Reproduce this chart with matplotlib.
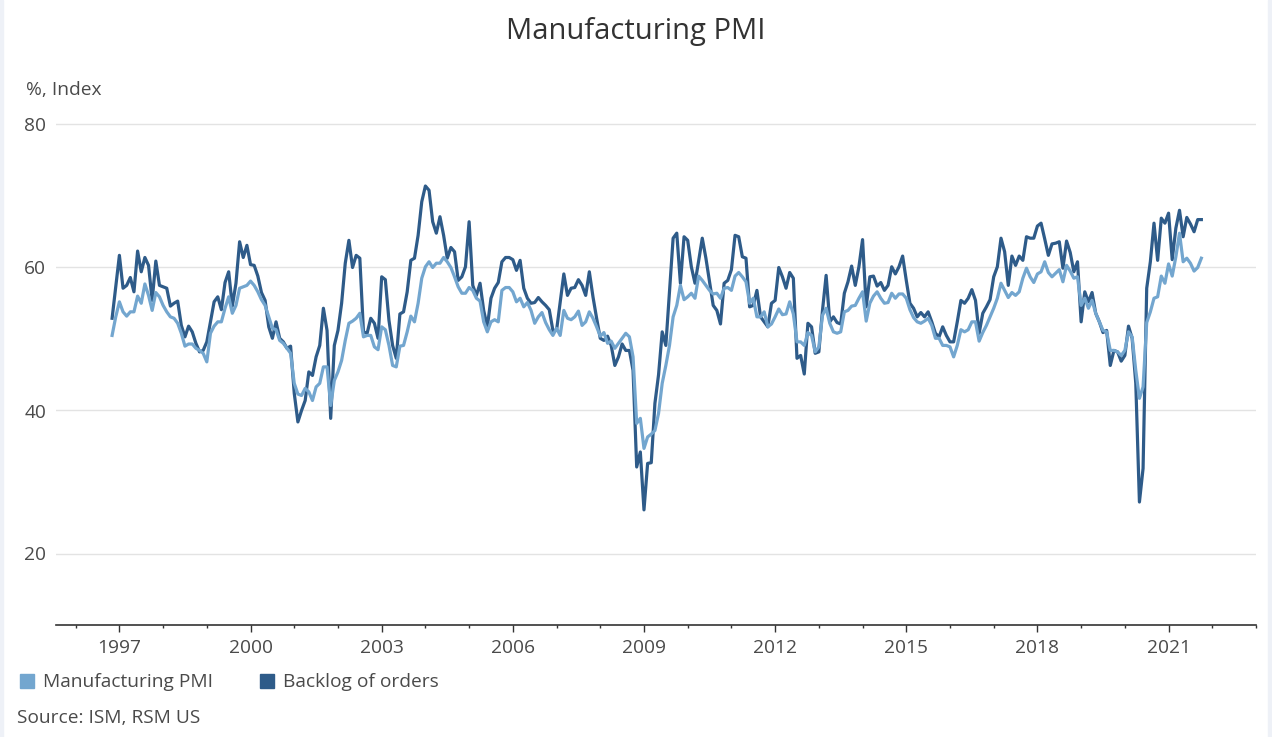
import numpy as np
import matplotlib
matplotlib.use("Agg")
import matplotlib.pyplot as plt
from matplotlib.patches import Rectangle

plt.rcParams['font.family'] = ['Open Sans', 'DejaVu Sans']

# monthly values, Nov 1996 .. Oct 2021
pmi = [
    50.5, 53.1,
    55.2, 53.8, 53.2, 53.8, 53.8, 56.0, 55.0, 57.7, 56.1, 54.0, 56.5, 55.9,
    54.7, 53.8, 53.1, 52.9, 52.2, 50.8, 49.0, 49.3, 49.3, 48.7, 48.4, 48.0,
    46.8, 50.8, 51.8, 52.4, 52.4, 54.3, 55.9, 53.6, 54.7, 57.1, 57.3, 57.5,
    58.1, 57.5, 56.6, 55.5, 54.7, 53.1, 51.5, 51.3, 49.8, 49.4, 48.7, 48.0,
    43.8, 42.3, 42.1, 43.1, 42.6, 41.4, 43.3, 43.8, 46.1, 46.1, 40.7, 44.2,
    45.4, 47.0, 49.8, 52.2, 52.5, 52.9, 53.6, 50.3, 50.5, 50.5, 48.9, 48.5,
    51.7, 51.3, 49.1, 46.3, 46.1, 49.0, 49.1, 51.0, 53.2, 52.4, 55.0, 58.5,
    60.1, 60.8, 60.0, 60.6, 60.6, 61.4, 60.8, 60.0, 58.7, 57.3, 56.4, 56.4,
    57.2, 56.8, 55.7, 55.3, 52.4, 51.0, 52.4, 52.7, 52.4, 56.8, 57.2, 57.2,
    56.6, 55.2, 55.7, 54.5, 55.1, 54.0, 52.2, 53.1, 53.7, 52.3, 51.3, 50.5,
    51.5, 50.5, 54.0, 52.9, 52.7, 53.1, 53.9, 51.9, 52.4, 53.8, 52.9, 51.7,
    50.4, 50.9, 49.4, 49.7, 48.7, 49.4, 50.1, 50.8, 50.3, 47.5, 38.2, 38.9,
    34.7, 36.3, 36.7, 37.2, 39.6, 43.8, 46.3, 49.1, 53.1, 54.7, 57.5, 55.5,
    55.9, 56.4, 55.7, 58.8, 58.2, 57.5, 56.8, 56.3, 56.4, 55.7, 57.1, 57.2,
    56.8, 58.8, 59.3, 58.7, 58.0, 55.0, 55.7, 53.1, 53.1, 53.8, 51.7, 52.1,
    53.1, 54.2, 53.4, 53.5, 55.2, 53.5, 49.6, 49.6, 49.1, 50.9, 50.5, 48.2,
    48.9, 53.3, 54.3, 52.2, 51.0, 50.8, 51.0, 53.8, 54.0, 54.6, 54.7, 55.7,
    56.6, 52.5, 55.0, 56.0, 56.6, 55.7, 55.0, 55.1, 56.4, 55.7, 56.3, 56.3,
    55.7, 54.1, 53.0, 52.4, 52.2, 52.5, 52.9, 51.9, 50.1, 50.1, 49.1, 49.1,
    48.9, 47.5, 49.1, 51.3, 51.0, 51.3, 52.4, 52.4, 49.7, 50.9, 51.9, 53.1,
    54.3, 55.7, 57.8, 56.8, 55.8, 56.5, 56.1, 56.6, 58.5, 59.9, 58.7, 57.9,
    59.1, 59.4, 60.8, 59.3, 58.7, 59.2, 59.7, 58.0, 60.3, 59.5, 58.5, 58.7,
    54.7, 55.7, 54.3, 55.4, 53.6, 52.4, 51.2, 51.0, 48.4, 48.4, 48.2, 47.7,
    48.4, 51.0, 50.3, 45.6, 41.7, 43.3, 52.3, 53.8, 55.7, 55.9, 58.8, 57.8,
    60.5, 58.8, 61.5, 64.8, 60.8, 61.3, 60.6, 59.5, 60.0, 61.3,
]

backlog = [
    52.9, 57.3,
    61.7, 57.1, 57.5, 58.6, 56.6, 62.3, 59.4, 61.4, 60.3, 55.4, 60.9, 57.5,
    57.3, 57.1, 54.6, 55.0, 55.3, 51.9, 50.3, 51.8, 51.0, 49.4, 48.2, 48.4,
    49.6, 52.4, 55.2, 55.9, 54.1, 57.9, 59.4, 54.6, 57.8, 63.6, 61.4, 63.1,
    60.4, 60.3, 58.8, 56.5, 55.4, 51.7, 50.1, 52.4, 50.1, 49.6, 48.7, 49.0,
    42.4, 38.4, 40.0, 41.4, 45.4, 44.9, 47.5, 49.1, 54.3, 51.2, 38.9, 49.1,
    51.2, 55.0, 60.6, 63.8, 60.0, 61.7, 61.3, 51.0, 50.8, 52.9, 52.2, 50.1,
    58.7, 58.3, 52.6, 49.1, 47.3, 53.5, 53.8, 56.6, 61.0, 61.3, 64.5, 69.2,
    71.4, 70.8, 66.4, 64.8, 67.1, 64.5, 61.3, 62.8, 62.2, 58.2, 58.7, 60.1,
    66.4, 57.5, 56.1, 57.8, 54.0, 51.7, 55.7, 57.1, 57.9, 60.8, 61.4, 61.4,
    61.1, 59.6, 61.0, 57.1, 55.7, 55.0, 55.1, 55.8, 55.2, 54.7, 54.1, 51.2,
    51.2, 55.2, 59.1, 56.1, 57.1, 57.2, 58.3, 57.5, 56.1, 59.4, 55.9, 52.9,
    50.1, 49.8, 50.4, 49.1, 46.3, 47.5, 49.3, 48.4, 48.4, 45.6, 32.1, 34.2,
    26.1, 32.6, 32.7, 41.0, 45.0, 51.0, 49.1, 56.6, 64.1, 64.8, 57.8, 64.3,
    63.8, 60.1, 57.8, 60.9, 64.1, 61.3, 58.0, 54.7, 54.0, 52.1, 57.8, 58.2,
    59.7, 64.5, 64.3, 61.5, 61.3, 54.5, 54.7, 56.8, 53.1, 52.4, 51.7, 55.0,
    55.4, 60.0, 58.7, 57.1, 59.3, 58.5, 47.3, 47.7, 45.1, 52.2, 51.7, 48.0,
    48.2, 54.0, 58.9, 52.4, 53.1, 52.3, 52.1, 56.4, 58.0, 60.2, 57.5, 60.1,
    63.9, 54.5, 58.7, 58.8, 57.4, 57.9, 56.8, 57.5, 60.1, 59.1, 60.1, 61.6,
    58.2, 55.0, 54.3, 53.1, 53.7, 53.1, 53.8, 52.4, 50.8, 50.3, 51.7, 50.5,
    49.6, 49.6, 52.4, 55.4, 55.0, 55.7, 56.9, 55.4, 50.8, 53.6, 54.5, 55.5,
    58.7, 60.1, 64.1, 62.2, 57.5, 61.6, 60.3, 61.6, 61.0, 64.3, 64.1, 64.1,
    65.8, 66.2, 64.0, 61.7, 63.3, 63.4, 63.6, 59.9, 63.7, 62.1, 59.4, 60.8,
    52.4, 56.6, 55.2, 56.5, 53.6, 52.4, 50.9, 51.2, 46.3, 48.4, 48.2, 46.9,
    47.7, 51.8, 50.1, 43.8, 27.2, 31.9, 57.1, 60.8, 66.2, 61.0, 66.9, 66.2,
    67.6, 61.1, 65.5, 68.0, 64.3, 67.0, 66.1, 65.0, 66.7, 66.7,
]

major_years = [1997, 2000, 2003, 2006, 2009, 2012, 2015, 2018, 2021]
y_ticks = [20, 40, 60, 80]

light = '#73a6cf'
dark = '#2e5b89'
txt = '#4a4a4a'

n = len(pmi)
t = 1996 + 10 / 12 + np.arange(n) / 12

fig = plt.figure(figsize=(12.72, 7.37), dpi=100)
top_px = 625 - 71 * 7.15
ax = fig.add_axes([56 / 1272, 1 - 625 / 737, 1200 / 1272, (625 - top_px) / 737])

ax.plot(t, backlog, color=dark, lw=2.3, solid_joinstyle='round', zorder=3)
ax.plot(t, pmi, color=light, lw=2.3, solid_joinstyle='round', zorder=4)

ax.set_xlim(1995.55, 2023.0)
ax.set_ylim(10, 81)

ax.set_yticks(y_ticks)
ax.set_xticks(major_years)
ax.set_xticks(range(1996, 2024), minor=True)
ax.grid(axis='y', color='#e3e3e3', lw=1)
ax.set_axisbelow(True)

for s in ['top', 'right', 'left']:
    ax.spines[s].set_visible(False)
ax.spines['bottom'].set_color('#333333')
ax.spines['bottom'].set_linewidth(1.2)

ax.tick_params(axis='y', length=0, pad=7, labelsize=13.8, labelcolor=txt)
ax.tick_params(axis='x', which='major', length=5, width=1, color='#333333',
               pad=5, labelsize=13.8, labelcolor=txt)
ax.tick_params(axis='x', which='minor', length=2.5, width=1, color='#333333')

fig.text(0.5, 1 - 32 / 737, 'Manufacturing PMI', ha='center', va='center',
         fontsize=21, color='#333333')
fig.text(26 / 1272, 1 - 90 / 737, '%, Index', ha='left', va='center',
         fontsize=13.8, color=txt)

# legend
fig.patches.append(Rectangle((20 / 1272, 1 - 688 / 737), 14 / 1272, 14 / 737,
                             transform=fig.transFigure, color=light))
fig.text(43 / 1272, 1 - 682 / 737, 'Manufacturing PMI', ha='left', va='center',
         fontsize=13.8, color=txt)
fig.patches.append(Rectangle((260 / 1272, 1 - 688 / 737), 14 / 1272, 14 / 737,
                             transform=fig.transFigure, color=dark))
fig.text(283 / 1272, 1 - 682 / 737, 'Backlog of orders', ha='left', va='center',
         fontsize=13.8, color=txt)
fig.text(17 / 1272, 1 - 718 / 737, 'Source: ISM, RSM US', ha='left', va='center',
         fontsize=13.8, color=txt)

# page edges
fig.patches.append(Rectangle((0, 0), 3 / 1272, 1, transform=fig.transFigure,
                             color='#eef1f7'))
fig.patches.append(Rectangle((1268 / 1272, 0), 4 / 1272, 1, transform=fig.transFigure,
                             color='#eef1f7'))

fig.savefig('out.png', dpi=100)
